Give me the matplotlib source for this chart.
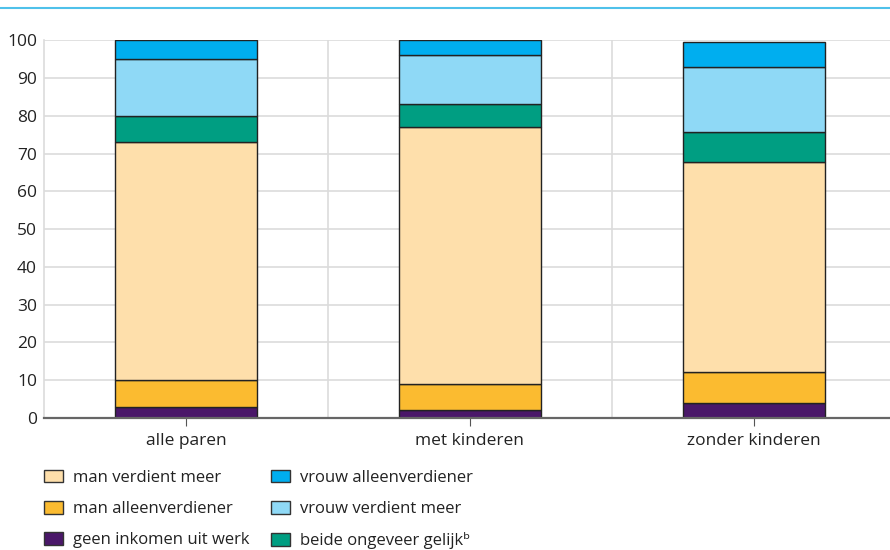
import matplotlib
matplotlib.use("Agg")
import matplotlib.pyplot as plt
from matplotlib.patches import Patch
from matplotlib.lines import Line2D

plt.rcParams['font.family'] = ['Open Sans', 'DejaVu Sans']

# Percentage of couples per earning type
groups = ['alle paren', 'met kinderen', 'zonder kinderen']
geen_inkomen = [3, 2, 3.9]
man_alleen = [7, 7, 8.2]
man_meer = [63, 68, 55.7]
gelijk = [7, 6, 8]
vrouw_meer = [15, 13, 17]
vrouw_alleen = [5, 4, 6.8]

series = [
    ('geen inkomen uit werk', geen_inkomen, '#4a1769'),
    ('man alleenverdiener', man_alleen, '#fbbb30'),
    ('man verdient meer', man_meer, '#fedfab'),
    ('beide ongeveer gelijkᵇ', gelijk, '#009e82'),
    ('vrouw verdient meer', vrouw_meer, '#8fd9f6'),
    ('vrouw alleenverdiener', vrouw_alleen, '#00aeef'),
]

fig = plt.figure(figsize=(8.9, 5.5), dpi=100)
ax = fig.add_axes([0.0494, 0.24, 0.9506, 0.687])

x = range(len(groups))
bottom = [0] * len(groups)
handles = {}
for name, vals, color in series:
    ax.bar(x, vals, bottom=bottom, width=0.5, color=color,
           edgecolor='#222222', linewidth=1.0, zorder=3)
    bottom = [b + v for b, v in zip(bottom, vals)]
    handles[name] = Patch(facecolor=color, edgecolor='#333333', linewidth=1.0)

ax.set_xlim(-0.5, 2.48)
ax.set_ylim(0, 100)
ax.set_yticks(range(0, 101, 10))
ax.set_xticks(list(x))
ax.set_xticklabels(groups)
ax.set_xticks([0.5, 1.5], minor=True)

ax.grid(axis='y', color='#dcdcdc', linewidth=1.2, zorder=0)
ax.grid(axis='x', which='minor', color='#dcdcdc', linewidth=1.2, zorder=0)
ax.tick_params(axis='x', which='major', length=6, color='#555555',
               labelsize=12.5, labelcolor='#222222', pad=5)
ax.tick_params(axis='x', which='minor', length=0)
ax.tick_params(axis='y', length=0, labelsize=12.5, labelcolor='#222222', pad=5)

for s in ['top', 'right']:
    ax.spines[s].set_visible(False)
ax.spines['left'].set_color('#dcdcdc')
ax.spines['left'].set_linewidth(1.2)
ax.spines['bottom'].set_color('#666666')
ax.spines['bottom'].set_linewidth(1.6)
ax.spines['bottom'].set_zorder(4)

order = ['man verdient meer', 'man alleenverdiener', 'geen inkomen uit werk',
         'vrouw alleenverdiener', 'vrouw verdient meer', 'beide ongeveer gelijkᵇ']
leg = fig.legend([handles[n] for n in order], order, ncol=2,
                 loc='upper left', bbox_to_anchor=(0.0494, 0.146),
                 frameon=False, fontsize=12, handlelength=1.15, handleheight=0.8,
                 handletextpad=0.6, columnspacing=1.3, labelspacing=0.9,
                 borderpad=0, borderaxespad=0)
for t in leg.get_texts():
    t.set_color('#222222')

# thin rule along the top of the figure
fig.add_artist(Line2D([0, 1], [0.985, 0.985], color='#4fc1ea', linewidth=1.5))

fig.savefig('out.png', dpi=100)
